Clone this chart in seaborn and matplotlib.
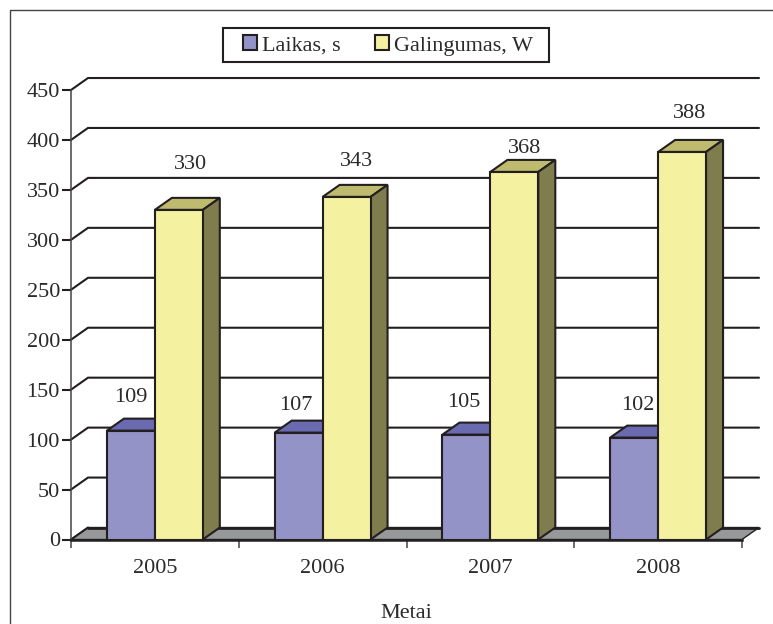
import matplotlib
matplotlib.use("Agg")
import matplotlib.pyplot as plt
from matplotlib.lines import Line2D
from matplotlib.patches import Polygon, Rectangle
import pandas as pd
import seaborn as sns

years = ["2005", "2006", "2007", "2008"]
laikas = [109, 107, 105, 102]
galingumas = [330, 343, 368, 388]
series_names = ["Laikas, s", "Galingumas, W"]
y_ticks = list(range(0, 451, 50))

# Per-label nudges (pixels) from the rear top centre of each bar
laikas_nudge = [(-17, 33.5), (-20, 27.5), (-20, 32.5), (-13, 32.5)]
galingumas_nudge = [(-5, 45.5), (-7, 35.5), (-7, 23.5), (-10, 38.5)]

EDGE = "#231f20"
FRONT = ["#9393c7", "#f4f1a0"]
TOP = ["#6a6ab0", "#bebb6e"]
SIDE = ["#55558c", "#7f7d4e"]
FLOOR = "#96989a"
TEXT = "#2a2a2a"
FONT_SIZE = 16

sns.set_theme(style="white")
plt.rcParams["font.family"] = ["Liberation Serif", "DejaVu Serif"]
plt.rcParams["font.size"] = FONT_SIZE

W, H = 773, 624
PT = 0.72  # points per pixel at 100 dpi
fig = plt.figure(figsize=(W / 100, H / 100), dpi=100, facecolor="white")
ax = fig.add_axes([71 / W, (H - 539.5) / H, 671 / W, 449.5 / H])
ax.patch.set_alpha(0)

df = pd.DataFrame({
    "Metai": years * 2,
    "value": laikas + galingumas,
    "series": [series_names[0]] * 4 + [series_names[1]] * 4,
})
sns.barplot(data=df, x="Metai", y="value", hue="series", hue_order=series_names,
            palette=FRONT, width=0.5714, gap=0, edgecolor=EDGE, linewidth=1.5,
            saturation=1, ax=ax, zorder=6)

ax.set_xlim(-0.5, 3.5)
ax.set_ylim(0, 450)

# Oblique offset of the rear plane, in data units
dx = 17 / 167.75
dy = 12.0

# Floor and rear wall
ax.add_patch(Polygon([(-0.5, 0), (-0.5 + dx, dy), (3.5 + dx, dy), (3.5, 0)],
                     closed=True, facecolor=FLOOR, edgecolor=EDGE, linewidth=1.0,
                     clip_on=False, zorder=1))
ax.plot([-0.5 + dx, 3.5 + dx], [dy, dy], color=EDGE, lw=2.0, clip_on=False, zorder=2)
for tick in y_ticks[1:]:
    ax.plot([-0.5, -0.5 + dx, 3.5 + dx], [tick, tick + dy, tick + dy],
            color=EDGE, lw=1.5, clip_on=False, zorder=2, solid_joinstyle="miter")
ax.plot([-0.5, -0.5 + dx], [0, dy], color=EDGE, lw=1.5, clip_on=False, zorder=2)

# Extruded top and side of every bar
for s, container in enumerate(ax.containers):
    for bar in container:
        x0, w, h = bar.get_x(), bar.get_width(), bar.get_height()
        z = 3 + s * 2
        bar.set_zorder(z + 1)
        bar.set_clip_on(False)
        ax.add_patch(Polygon([(x0, h), (x0 + dx, h + dy), (x0 + w + dx, h + dy), (x0 + w, h)],
                             closed=True, facecolor=TOP[s], edgecolor=EDGE, linewidth=1.5,
                             clip_on=False, zorder=z))
        ax.add_patch(Polygon([(x0 + w, 0), (x0 + w + dx, dy), (x0 + w + dx, h + dy), (x0 + w, h)],
                             closed=True, facecolor=SIDE[s], edgecolor=EDGE, linewidth=1.5,
                             clip_on=False, zorder=z))

# Value labels
for container, values, nudges in zip(ax.containers, (laikas, galingumas),
                                     (laikas_nudge, galingumas_nudge)):
    for bar, value, (nx, ny) in zip(container, values, nudges):
        ax.annotate(str(value), (bar.get_x() + bar.get_width() / 2 + dx, value),
                    xytext=(nx * PT, ny * PT), textcoords="offset points",
                    ha="center", va="center", fontsize=FONT_SIZE, color=TEXT, zorder=10)

# Axes
for name in ("top", "right"):
    ax.spines[name].set_visible(False)
ax.spines["left"].set_color("#444444")
ax.spines["left"].set_linewidth(1.1)
ax.spines["bottom"].set_color(EDGE)
ax.spines["bottom"].set_linewidth(1.8)
ax.spines["bottom"].set_zorder(9)
ax.set_yticks(y_ticks)
ax.set_xticks([-0.5, 0.5, 1.5, 2.5, 3.5], minor=True)
ax.tick_params(axis="y", which="major", left=True, length=6.5, width=1.5, color=EDGE,
               labelsize=FONT_SIZE, labelcolor=TEXT, pad=1.5)
ax.tick_params(axis="x", which="major", bottom=False, length=0, labelsize=FONT_SIZE,
               labelcolor=TEXT, pad=14.2)
ax.tick_params(axis="x", which="minor", bottom=True, length=6, width=1.1, color="#444444")
ax.set_ylabel("")
ax.set_xlabel("Metai", fontsize=FONT_SIZE, color=TEXT, labelpad=18.8)

# Legend with a separately sized box
handles, labels = ax.get_legend_handles_labels()
for handle in handles:
    handle.set_edgecolor(EDGE)
    handle.set_linewidth(1.5)
ax.legend(handles, labels, loc="center", bbox_to_anchor=(388 / W, 1 - 45.5 / H),
          bbox_transform=fig.transFigure, ncol=2, frameon=False, fontsize=FONT_SIZE,
          handlelength=0.64, handleheight=0.64, handletextpad=0.24, columnspacing=1.51,
          labelcolor=TEXT, borderpad=0, borderaxespad=0)
fig.add_artist(Rectangle((223 / W, 1 - 62 / H), 326 / W, 34 / H, transform=fig.transFigure,
                         fill=False, edgecolor=EDGE, linewidth=1.5))

# Outer chart frame: top and left edges only
fig.add_artist(Line2D([9.5 / W, 9.5 / W, 1], [0, 1 - 10 / H, 1 - 10 / H],
                      transform=fig.transFigure, color="#444444", linewidth=1.0))

fig.savefig("out.png", dpi=100)
